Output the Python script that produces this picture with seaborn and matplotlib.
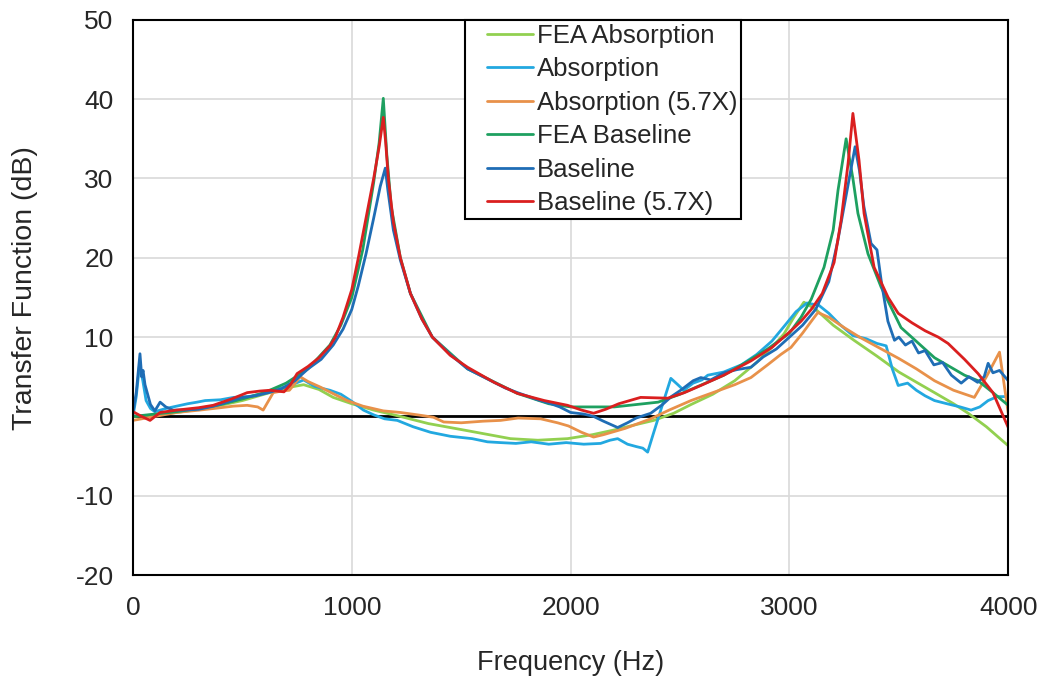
import pandas as pd
import seaborn as sns
import matplotlib.pyplot as plt
from matplotlib.lines import Line2D
from matplotlib.legend_handler import HandlerLine2D

# values (frequency in Hz, transfer function in dB)
fea_abs_f = [0, 100, 200, 300, 400, 500, 600, 700, 780, 850, 915, 1000, 1100, 1222, 1350,
             1529, 1725, 1850, 1986, 2100, 2200, 2288, 2380, 2471, 2550, 2650, 2750, 2850,
             2930, 2975, 3020, 3066, 3120, 3200, 3295, 3400, 3500, 3600, 3663, 3750, 3817,
             3900, 4000]
fea_abs_db = [0.0, 0.2, 0.5, 0.9, 1.4, 2.0, 2.8, 3.6, 4.0, 3.4, 2.4, 1.6, 0.8, 0.0, -0.9,
              -1.8, -2.8, -3.0, -2.8, -2.3, -1.7, -1.1, -0.5, 0.4, 1.5, 2.8, 4.5, 6.8,
              9.0, 10.4, 12.5, 14.4, 13.5, 11.5, 9.6, 7.6, 5.6, 4.0, 3.0, 1.6, 0.4,
              -1.3, -3.7]

abs_f = [0, 15, 30, 45, 60, 80, 100, 150, 200, 250, 293, 330, 400, 460, 530, 595, 650, 718,
         780, 830, 870, 900, 950, 1000, 1053, 1100, 1150, 1208, 1280, 1360, 1450, 1550,
         1620, 1680, 1750, 1820, 1900, 1980, 2060, 2137, 2180, 2215, 2260, 2300, 2330, 2352,
         2380, 2420, 2458, 2490, 2517, 2560, 2600, 2627, 2700, 2780, 2850, 2920, 2980, 3030,
         3080, 3135, 3180, 3230, 3290, 3350, 3400, 3442, 3470, 3497, 3540, 3580, 3620, 3663,
         3720, 3780, 3830, 3870, 3908, 3950, 4000]
abs_db = [0.0, 2.5, 6.5, 4.5, 2.0, 1.0, 0.6, 1.0, 1.3, 1.6, 1.8, 2.0, 2.1, 2.4, 2.5, 2.9, 3.4, 3.9,
          4.6, 3.8, 3.5, 3.3, 2.8, 1.9, 0.8, 0.2, -0.3, -0.5, -1.3, -2.0, -2.5, -2.8,
          -3.2, -3.3, -3.4, -3.2, -3.5, -3.3, -3.5, -3.4, -3.0, -2.8, -3.5, -3.8, -4.0, -4.5,
          -2.0, 1.5, 4.8, 4.0, 3.3, 4.2, 4.6, 5.2, 5.6, 6.5, 7.8, 9.5, 11.5, 13.2,
          14.3, 14.0, 13.0, 11.6, 10.2, 9.8, 9.2, 8.9, 6.0, 3.9, 4.2, 3.3, 2.6, 2.0,
          1.6, 1.2, 0.8, 1.2, 2.0, 2.5, 2.5]

abs57_f = [0, 40, 100, 200, 305, 400, 460, 522, 570, 595, 641, 680, 715, 764, 800, 856, 920,
           979, 1050, 1144, 1222, 1300, 1373, 1420, 1500, 1600, 1680, 1760, 1863, 1940, 1990,
           2050, 2105, 2150, 2250, 2366, 2450, 2550, 2650, 2750, 2824, 2900, 2960, 3007, 3060,
           3100, 3130, 3180, 3250, 3320, 3400, 3500, 3580, 3663, 3750, 3845, 3900, 3960, 4000]
abs57_db = [-0.5, -0.3, 0.0, 0.5, 0.8, 1.1, 1.3, 1.4, 1.2, 0.8, 3.0, 3.2, 3.3, 5.0, 4.4, 3.7, 2.8,
            2.0, 1.3, 0.7, 0.5, 0.2, -0.1, -0.7, -0.8, -0.6, -0.5, -0.2, -0.3, -0.8, -1.2,
            -2.0, -2.6, -2.3, -1.5, -0.3, 0.8, 2.0, 3.0, 4.0, 4.9, 6.5, 7.8, 8.7, 10.5,
            12.0, 13.1, 12.5, 11.2, 10.0, 8.8, 7.3, 6.0, 4.5, 3.3, 2.4, 5.0, 8.1, 0.4]

fea_base_f = [0, 100, 200, 300, 400, 500, 600, 700, 800, 900, 950, 1000, 1050, 1100, 1125,
              1144, 1160, 1180, 1222, 1268, 1368, 1529, 1757, 1900, 2000, 2200, 2400, 2500,
              2600, 2700, 2800, 2900, 3000, 3053, 3100, 3158, 3200, 3222, 3259, 3290, 3313,
              3359, 3419, 3510, 3663, 3800, 3862, 3930, 4000]
fea_base_db = [0.0, 0.3, 0.6, 1.0, 1.5, 2.2, 3.0, 4.2, 6.0, 9.0, 11.5, 15.0, 21.0, 29.5, 34.5,
               40.1, 33.0, 26.5, 20.0, 15.5, 10.0, 6.0, 2.9, 1.6, 1.2, 1.2, 1.8, 2.8,
               4.0, 5.2, 6.8, 8.5, 10.5, 12.5, 14.8, 18.8, 23.5, 28.5, 35.0, 30.0, 25.6,
               20.5, 16.3, 11.2, 7.4, 5.2, 4.5, 3.0, 1.4]

base_f = [0, 15, 32, 40, 46, 55, 65, 80, 100, 124, 150, 183, 230, 300, 370, 430, 500, 560, 620,
          680, 740, 800, 860, 915, 960, 1000, 1030, 1065, 1100, 1130, 1153, 1165, 1190, 1222,
          1268, 1320, 1368, 1450, 1529, 1600, 1700, 1757, 1850, 1900, 1950, 2000, 2060, 2105,
          2150, 2215, 2260, 2300, 2366, 2420, 2460, 2503, 2560, 2595, 2640, 2700, 2760, 2824,
          2880, 2940, 3000, 3060, 3120, 3180, 3220, 3260, 3290, 3300, 3320, 3340, 3373, 3400,
          3420, 3450, 3480, 3500, 3530, 3560, 3590, 3620, 3660, 3700, 3740, 3785, 3820, 3860,
          3890, 3908, 3930, 3960, 4000]
base_db = [0.5, 3.0, 7.9, 5.0, 5.8, 4.0, 3.0, 1.5, 0.7, 1.8, 1.2, 0.8, 0.8, 0.9, 1.3, 1.8, 2.4, 2.6, 3.0,
           3.5, 4.5, 6.0, 7.2, 9.0, 11.0, 13.5, 16.5, 20.5, 25.0, 29.0, 31.3, 28.5, 23.5, 19.7,
           15.5, 12.3, 10.0, 7.8, 6.0, 5.0, 3.6, 3.0, 2.1, 1.7, 1.2, 0.5, 0.3, 0.0,
           -0.6, -1.4, -0.8, -0.2, 0.4, 1.5, 2.5, 3.3, 4.5, 4.9, 4.6, 5.5, 5.9, 6.2,
           7.5, 8.5, 10.0, 11.5, 13.5, 17.0, 22.0, 28.0, 32.5, 34.0, 31.0, 26.5, 21.8, 21.0,
           17.0, 12.0, 9.6, 10.0, 9.0, 9.5, 8.0, 8.3, 6.5, 6.8, 5.2, 4.2, 5.0, 4.3,
           5.0, 6.7, 5.5, 5.8, 4.5]

base57_f = [0, 40, 78, 124, 200, 300, 366, 450, 522, 580, 627, 690, 720, 750, 800, 850, 900, 925,
            960, 1000, 1030, 1065, 1100, 1125, 1144, 1155, 1167, 1190, 1222, 1268, 1320, 1368,
            1450, 1529, 1650, 1757, 1880, 1986, 2050, 2105, 2160, 2220, 2320, 2444, 2520, 2595,
            2700, 2824, 2920, 3007, 3053, 3100, 3150, 3204, 3236, 3268, 3290, 3318, 3341, 3387,
            3451, 3497, 3560, 3620, 3680, 3725, 3800, 3862, 3930, 4000]
base57_db = [0.6, 0.0, -0.5, 0.5, 0.8, 1.1, 1.4, 2.2, 3.0, 3.2, 3.3, 3.1, 4.0, 5.4, 6.3, 7.4, 8.9, 10.0,
             12.5, 16.0, 20.0, 25.0, 30.0, 34.0, 37.7, 34.5, 30.0, 24.5, 20.0, 15.5, 12.3, 10.0,
             7.7, 6.2, 4.3, 2.9, 2.0, 1.4, 0.8, 0.4, 0.9, 1.6, 2.4, 2.3, 3.0, 3.9,
             5.2, 7.0, 8.7, 10.8, 12.0, 13.5, 15.5, 19.4, 24.7, 31.9, 38.2, 32.3, 25.6, 18.8,
             15.0, 13.0, 11.8, 10.8, 10.0, 9.2, 7.2, 5.4, 3.0, -1.4]

names = ['FEA Absorption', 'Absorption', 'Absorption (5.7X)',
         'FEA Baseline', 'Baseline', 'Baseline (5.7X)']
colors = ['#92D050', '#22A8E0', '#E8914A', '#1EA060', '#1F6DB5', '#DA1F1F']

series = [(fea_abs_f, fea_abs_db), (abs_f, abs_db), (abs57_f, abs57_db),
          (fea_base_f, fea_base_db), (base_f, base_db), (base57_f, base57_db)]
df = pd.concat([pd.DataFrame({'Frequency': f, 'TF': v, 'Series': n})
                for n, (f, v) in zip(names, series)], ignore_index=True)

sns.set_style('white')
plt.rcParams['font.family'] = ['Liberation Sans', 'DejaVu Sans']
plt.rcParams['axes.unicode_minus'] = False

fig, ax = plt.subplots(figsize=(10.47, 6.83), dpi=100)
fig.subplots_adjust(left=0.127, right=0.963, top=0.971, bottom=0.158)

ax.axhline(0, color='black', linewidth=2, zorder=1.5)
sns.lineplot(data=df, x='Frequency', y='TF', hue='Series', hue_order=names,
             palette=colors, estimator=None, linewidth=2, ax=ax)

ax.set_xlim(0, 4000)
ax.set_ylim(-20, 50)
ax.set_xticks([0, 1000, 2000, 3000, 4000])
ax.set_yticks(range(-20, 51, 10))
ax.grid(True, color='#d9d9d9', linewidth=1.2)
ax.set_axisbelow(True)
for s in ax.spines.values():
    s.set_color('black')
    s.set_linewidth(1.5)
ax.tick_params(length=0, labelsize=19)
ax.tick_params(axis='x', pad=15)
ax.tick_params(axis='y', pad=14)
ax.set_xlabel('Frequency (Hz)', fontsize=19.5, labelpad=22)
ax.set_ylabel('Transfer Function (dB)', fontsize=20.5)
ax.yaxis.set_label_coords(-0.108, 0.517)

leg = ax.legend(loc='upper left', bbox_to_anchor=(0.379, 1.0), borderaxespad=0,
                frameon=True, fancybox=False, edgecolor='black', framealpha=1,
                fontsize=18.5, handlelength=2.5, handletextpad=0.15, labelspacing=0.37,
                borderpad=0.15, handler_map={Line2D: HandlerLine2D(xpad=0.7)})
leg.get_frame().set_linewidth(1.5)

plt.savefig('out.png', dpi=100)
